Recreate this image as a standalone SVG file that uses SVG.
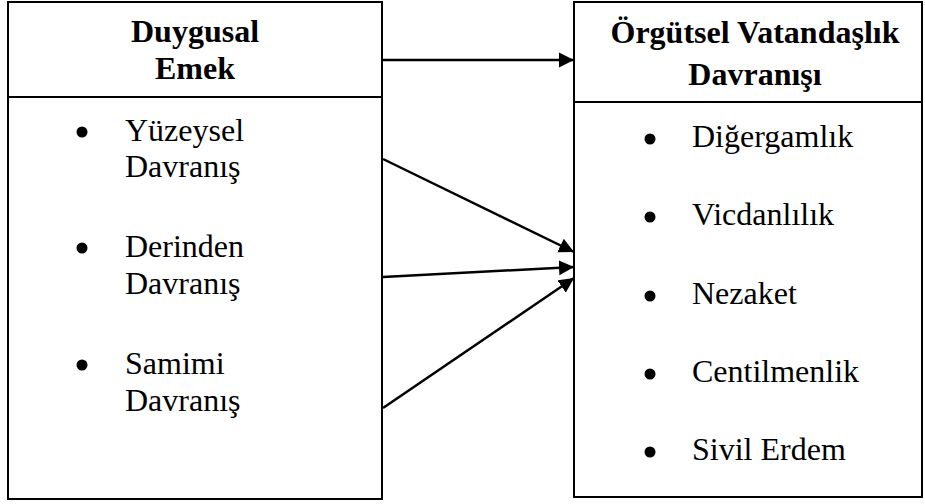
<svg xmlns="http://www.w3.org/2000/svg" width="925" height="504" viewBox="0 0 925 504">
<defs>
<style>
.box{fill:#fff;stroke:#000;stroke-width:2}
text{font-family:'Liberation Serif',Tinos,'Times New Roman',Times,'DejaVu Serif',serif;fill:#000}
.hd{font-weight:bold;font-size:32px;text-anchor:middle}
.it{font-size:32px}
.bul{fill:#000}
.con{stroke:#000;stroke-width:2.5;fill:none;marker-end:url(#ah)}
</style>
<marker id="ah" markerUnits="userSpaceOnUse" markerWidth="16" markerHeight="16" viewBox="0 0 16 16" refX="15" refY="8" orient="auto">
<path d="M0,0.5 L15,8 L0,15.5 Z" fill="#000"/>
</marker>
</defs>
<g id="node-duygusal-emek">
<rect class="box" x="8" y="2" width="374" height="497"/>
<line x1="8" y1="97" x2="382" y2="97" stroke="#000" stroke-width="2"/>
<text class="hd" x="195" y="42">Duygusal</text>
<text class="hd" x="195" y="79">Emek</text>
<circle class="bul" cx="82" cy="132" r="5.5"/>
<text class="it" x="125" y="141">Yüzeysel</text>
<text class="it" x="125" y="177">Davranış</text>
<circle class="bul" cx="82" cy="248" r="5.5"/>
<text class="it" x="125" y="257">Derinden</text>
<text class="it" x="125" y="294">Davranış</text>
<circle class="bul" cx="82" cy="365" r="5.5"/>
<text class="it" x="125" y="374">Samimi</text>
<text class="it" x="125" y="411">Davranış</text>
</g>
<g id="node-ovd">
<rect class="box" x="574" y="2" width="348" height="495"/>
<line x1="574" y1="102" x2="922" y2="102" stroke="#000" stroke-width="2"/>
<text class="hd" x="755" y="43">Örgütsel Vatandaşlık</text>
<text class="hd" x="755" y="85">Davranışı</text>
<circle class="bul" cx="650" cy="139" r="5.5"/>
<text class="it" x="692" y="147">Diğergamlık</text>
<circle class="bul" cx="650" cy="217" r="5.5"/>
<text class="it" x="692" y="225">Vicdanlılık</text>
<circle class="bul" cx="650" cy="296" r="5.5"/>
<text class="it" x="692" y="304">Nezaket</text>
<circle class="bul" cx="650" cy="374" r="5.5"/>
<text class="it" x="692" y="382">Centilmenlik</text>
<circle class="bul" cx="650" cy="452" r="5.5"/>
<text class="it" x="692" y="460">Sivil Erdem</text>
</g>
<g id="connectors">
<line class="con" x1="383" y1="60" x2="574" y2="60"/>
<line class="con" x1="383" y1="159" x2="574" y2="252"/>
<line class="con" x1="383" y1="277" x2="574" y2="267"/>
<line class="con" x1="383" y1="408" x2="574" y2="278"/>
</g>
</svg>
